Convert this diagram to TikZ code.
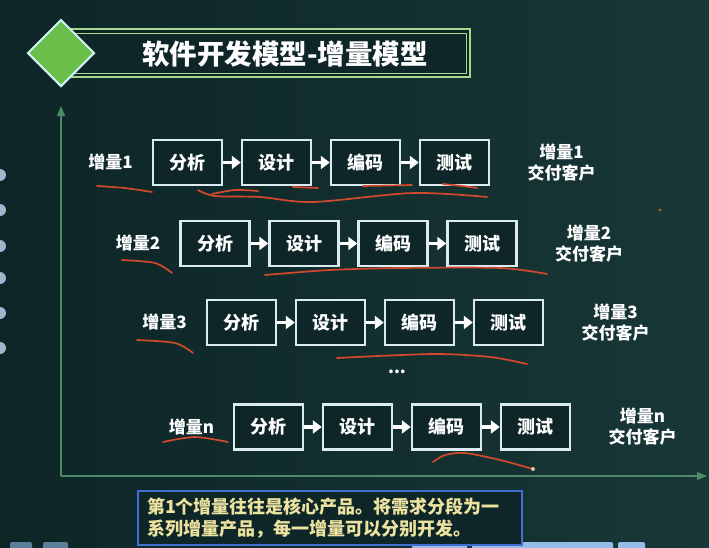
\documentclass[tikz,border=0pt]{standalone}
\usepackage{fontspec}
\setmainfont{Noto Sans CJK SC}
\usetikzlibrary{shapes.geometric, arrows.meta}
\definecolor{bgLeft}{HTML}{0D2527}
\definecolor{bgRight}{HTML}{183737}
\definecolor{boxEdge}{HTML}{DCEAF2}
\definecolor{boxFill}{HTML}{0E2628}
\definecolor{axisGreen}{HTML}{4E8A66}
\definecolor{titleGreen}{HTML}{A6D88E}
\definecolor{gemGreen}{HTML}{6ABF4B}
\definecolor{gemEdge}{HTML}{CFF3F5}
\definecolor{noteBlue}{HTML}{3F6FD2}
\definecolor{noteYellow}{HTML}{EDE3A0}
\definecolor{penRed}{HTML}{D2492E}
\definecolor{dotGray}{HTML}{9FB6CC}
\definecolor{btnBlue}{HTML}{93BDE6}
\tikzstyle{phase} = [rectangle, minimum width=69pt, minimum height=45pt, inner sep=0pt, text centered, draw=boxEdge, line width=2.4pt, fill=boxFill, text=white, font=\fontsize{18}{20}\selectfont\bfseries]
\tikzstyle{incLabel} = [text=white, font=\fontsize{17}{19}\selectfont\bfseries, inner sep=0pt]
\tikzstyle{deliver} = [text=white, align=center, font=\fontsize{17}{21}\selectfont\bfseries, inner sep=0pt]
\tikzstyle{noteBox} = [rectangle, draw=noteBlue, line width=1.6pt, fill=boxFill, text=noteYellow, minimum width=384pt, minimum height=54pt, text width=366pt, align=left, inner xsep=9pt, inner ysep=4pt, font=\fontsize{18}{22}\selectfont\bfseries]
\tikzstyle{arrow} = [white, line width=3.6pt, -{Triangle[length=9pt, width=13pt]}]
\tikzstyle{axisLine} = [axisGreen, line width=1.6pt, -{Triangle[length=10pt, width=8pt]}]
\tikzstyle{scribble} = [penRed, line width=1.7pt, line cap=round]

\begin{document}
\begin{tikzpicture}[x=1pt, y=-1pt, node distance=89pt]
        % Background
        \useasboundingbox (0,0) rectangle (709,547);
        \shade [left color=bgLeft, right color=bgRight] (0,0) rectangle (709,547);
        \foreach \y in {175,210,246,278,313,348} \fill [dotGray] (0,\y) circle (6pt);
        \fill [btnBlue!60!bgLeft, rounded corners=2pt] (10,542) rectangle (32,552);
        \fill [btnBlue!60!bgLeft, rounded corners=2pt] (43,542) rectangle (68,552);
        \fill [btnBlue, rounded corners=2pt] (412,542) rectangle (467,552);
        \fill [btnBlue, rounded corners=2pt] (472,542) rectangle (613,552);
        \fill [btnBlue, rounded corners=2pt] (618,542) rectangle (645,552);

        % Title
        \draw [titleGreen, line width=2pt, fill=boxFill] (70,29) rectangle (470,77);
        \draw [titleGreen, line width=0.9pt] (74,33) rectangle (466,73);
        \node (gem) [diamond, minimum width=67pt, minimum height=67pt, inner sep=0pt, fill=gemGreen, draw=gemEdge, line width=2pt] at (61,53) {};
        \node (title) [text=white, font=\fontsize{27.5}{29}\selectfont\bfseries] at (285,54) {软件开发模型-增量模型};

        % Axes
        \coordinate (origin) at (61,476);
        \coordinate (yTop) at (61,106);
        \coordinate (xEnd) at (707,476);
        \draw [axisLine] (origin) -- (yTop);
        \draw [axisLine] (origin) -- (xEnd);

        % Increment 1
        \node (ana1) [phase] at (187.5,162.5) {分析};
        \node (des1) [phase, right of=ana1] {设计};
        \node (cod1) [phase, right of=des1] {编码};
        \node (tst1) [phase, right of=cod1] {测试};
        \node (inc1) [incLabel, left of=ana1, xshift=12pt] {增量1};
        \node (out1) [deliver, right of=tst1, xshift=18pt] {增量1\\交付客户};

        % Increment 2
        \node (ana2) [phase] at (215,243.5) {分析};
        \node (des2) [phase, right of=ana2] {设计};
        \node (cod2) [phase, right of=des2] {编码};
        \node (tst2) [phase, right of=cod2] {测试};
        \node (inc2) [incLabel, left of=ana2, xshift=12pt] {增量2};
        \node (out2) [deliver, right of=tst2, xshift=18pt] {增量2\\交付客户};

        % Increment 3
        \node (ana3) [phase] at (241.5,322.5) {分析};
        \node (des3) [phase, right of=ana3] {设计};
        \node (cod3) [phase, right of=des3] {编码};
        \node (tst3) [phase, right of=cod3] {测试};
        \node (inc3) [incLabel, left of=ana3, xshift=12pt] {增量3};
        \node (out3) [deliver, right of=tst3, xshift=18pt] {增量3\\交付客户};

        \node (more) [incLabel] at (397,372) {...};

        % Increment n
        \node (anaN) [phase] at (268.5,427) {分析};
        \node (desN) [phase, right of=anaN] {设计};
        \node (codN) [phase, right of=desN] {编码};
        \node (tstN) [phase, right of=codN] {测试};
        \node (incN) [incLabel, left of=anaN, xshift=12pt] {增量n};
        \node (outN) [deliver, right of=tstN, xshift=18pt] {增量n\\交付客户};

        % Arrows
        \draw [arrow] (ana1) -- (des1);
        \draw [arrow] (des1) -- (cod1);
        \draw [arrow] (cod1) -- (tst1);
        \draw [arrow] (ana2) -- (des2);
        \draw [arrow] (des2) -- (cod2);
        \draw [arrow] (cod2) -- (tst2);
        \draw [arrow] (ana3) -- (des3);
        \draw [arrow] (des3) -- (cod3);
        \draw [arrow] (cod3) -- (tst3);
        \draw [arrow] (anaN) -- (desN);
        \draw [arrow] (desN) -- (codN);
        \draw [arrow] (codN) -- (tstN);

        % Note
        \node (note) [noteBox] at (330,518) {第1个增量往往是核心产品。将需求分段为一\\系列增量产品，每一增量可以分别开发。};

        % Pen marks
        \draw [scribble] plot[smooth] coordinates {(97,186) (125,188) (152,192)};
        \draw [scribble] plot[smooth] coordinates {(198,190) (215,196) (260,197) (313,202) (413,193) (487,197)};
        \draw [scribble] plot[smooth] coordinates {(212,194) (235,190) (258,191)};
        \draw [scribble] (293,187) -- (318,188);
        \draw [scribble] (363,186) -- (412,185);
        \draw [scribble] plot[smooth] coordinates {(443,184) (462,186) (477,188)};
        \draw [scribble] plot[smooth] coordinates {(122,260) (155,263) (172,273)};
        \draw [scribble] plot[smooth] coordinates {(265,275) (330,270) (400,268) (500,268) (547,274)};
        \draw [scribble] plot[smooth] coordinates {(137,340) (175,343) (193,353)};
        \draw [scribble] plot[smooth] coordinates {(337,358) (433,354) (490,357) (527,364)};
        \draw [scribble] plot[smooth] coordinates {(163,442) (195,437) (228,442)};
        \draw [scribble] plot[smooth] coordinates {(433,462) (445,455) (465,453) (500,460) (533,469)};
        \fill [penRed!40!white] (533,469) circle (2pt);
        \fill [penRed] (660,210) circle (1.6pt);
\end{tikzpicture}
\end{document}
